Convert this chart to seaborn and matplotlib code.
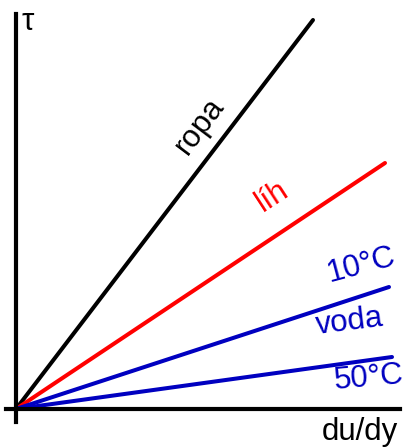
import numpy as np
import matplotlib.pyplot as plt
import seaborn as sns
import pandas as pd

# koncové body přímek (τ = μ * du/dy), počátek v (0, 0)
series = ["ropa", "líh", "voda 10°C", "voda 50°C"]
x_end = [2.97, 3.69, 3.73, 3.76]
tau_end = [3.89, 2.46, 1.22, 0.52]
colors = ["#000000", "#ff0000", "#0000c0", "#0000c0"]

rows = []
for name, xe, te in zip(series, x_end, tau_end):
    rows.append({"serie": name, "du/dy": 0.0, "tau": 0.0})
    rows.append({"serie": name, "du/dy": xe, "tau": te})
df = pd.DataFrame(rows)

sns.set_style("white")
plt.rcParams['font.family'] = ['Liberation Sans', 'DejaVu Sans']
plt.rcParams['text.color'] = 'black'

fig = plt.figure(figsize=(4.09, 4.48), dpi=100)
ax = fig.add_axes([0, 0, 1, 1])

sns.lineplot(data=df, x="du/dy", y="tau", hue="serie", palette=colors,
             linewidth=2.9, legend=False, ax=ax, sort=False)

ax.set_xlim(-0.16, 3.93)
ax.set_ylim(-0.39, 4.09)

# osy
for side in ["top", "right"]:
    ax.spines[side].set_visible(False)
ax.spines["left"].set_position(("data", 0))
ax.spines["bottom"].set_position(("data", 0))
ax.spines["left"].set_bounds(-0.13, 3.95)
ax.spines["bottom"].set_bounds(-0.10, 3.84)
for side in ["left", "bottom"]:
    ax.spines[side].set_linewidth(3.0)
    ax.spines[side].set_color("black")
ax.set_xticks([])
ax.set_yticks([])
ax.set_xlabel("")
ax.set_ylabel("")

fs = 22.5
ax.text(0.05, 3.87, "τ", fontsize=fs, ha="left", va="center", color="black")
ax.text(3.44, -0.23, "du/dy", fontsize=fs, ha="center", va="center", color="black")
ax.text(1.84, 2.83, "ropa", fontsize=fs, ha="center", va="center", rotation=53, color="black")
ax.text(2.56, 2.13, "líh", fontsize=fs, ha="center", va="center", rotation=33, color="#ff0000")
ax.text(3.45, 1.44, "10°C", fontsize=fs, ha="center", va="center", rotation=15, color="#0000c0")
ax.text(3.34, 0.87, "voda", fontsize=fs, ha="center", va="center", rotation=7, color="#0000c0")
ax.text(3.53, 0.31, "50°C", fontsize=fs, ha="center", va="center", rotation=5, color="#0000c0")

fig.savefig("out.png", dpi=100)
